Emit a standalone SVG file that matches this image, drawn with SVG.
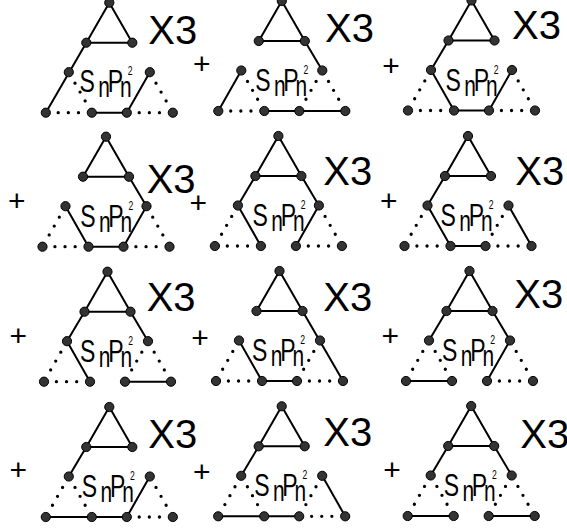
<svg xmlns="http://www.w3.org/2000/svg" width="567" height="529" viewBox="0 0 567 529">
<style>
.s{fill:none;stroke:#000;stroke-width:2;stroke-linejoin:round}
.d{fill:none;stroke:#000;stroke-width:3.3;stroke-linecap:round;stroke-dasharray:0 .22 0 .22 0 .56;stroke-dashoffset:-.27}
.v{fill:#333;stroke:#000;stroke-width:1}
.x{font-family:"Liberation Sans",Arial,sans-serif;font-size:40px;fill:#000}
.p{font-family:"Liberation Sans",Arial,sans-serif;font-size:30px;text-anchor:middle;fill:#000}
.t{font-family:"Liberation Sans",Arial,sans-serif;font-size:32px;fill:#000}
.sb{font-size:29px}
.sp{font-size:12px}
</style>
<rect width="567" height="529" fill="#fff"/>
<g id="connectors">
<g id="c1" transform="translate(109.3 2.7)">
<path class="s" d="M0 0L-23 40L23 40Z"/>
<path class="s" d="M-23 40L-63.5 110"/>
<path class="s" d="M-17.5 110H17.5L40.5 69.5"/>
<path class="d" pathLength="1" d="M-40.5 69.5L-17.5 110"/>
<path class="d" pathLength="1" d="M-63.5 110H-17.5"/>
<path class="d" pathLength="1" d="M40.5 69.5L63.5 110"/>
<path class="d" pathLength="1" d="M17.5 110H63.5"/>
</g>
<g id="c2" transform="translate(281.8 1)">
<path class="s" d="M0 0L-23 40L23 40Z"/>
<path class="s" d="M23 40L40.5 69.5"/>
<path class="s" d="M-40.5 69.5L-63.5 110"/>
<path class="s" d="M-17.5 110H63.5"/>
<path class="d" pathLength="1" d="M-40.5 69.5L-17.5 110"/>
<path class="d" pathLength="1" d="M-63.5 110H-17.5"/>
<path class="d" pathLength="1" d="M40.5 69.5L17.5 110"/>
<path class="d" pathLength="1" d="M40.5 69.5L63.5 110"/>
</g>
<g id="c3" transform="translate(471.5 0.5)">
<path class="s" d="M0 0L-23 40L23 40Z"/>
<path class="s" d="M-23 40L-40.5 69.5L-17.5 110H17.5L40.5 69.5"/>
<path class="d" pathLength="1" d="M-40.5 69.5L-63.5 110"/>
<path class="d" pathLength="1" d="M-63.5 110H-17.5"/>
<path class="d" pathLength="1" d="M40.5 69.5L63.5 110"/>
<path class="d" pathLength="1" d="M17.5 110H63.5"/>
</g>
<g id="c4" transform="translate(106 136.7)">
<path class="s" d="M0 0L-23 40L23 40Z"/>
<path class="s" d="M23 40L40.5 69.5L17.5 110H-17.5L-40.5 69.5"/>
<path class="d" pathLength="1" d="M-40.5 69.5L-63.5 110"/>
<path class="d" pathLength="1" d="M-63.5 110H-17.5"/>
<path class="d" pathLength="1" d="M40.5 69.5L63.5 110"/>
<path class="d" pathLength="1" d="M17.5 110H63.5"/>
</g>
<g id="c5" transform="translate(278.4 136)">
<path class="s" d="M0 0L-23 40L23 40Z"/>
<path class="s" d="M-23 40L-40.5 69.5L-17.5 110"/>
<path class="s" d="M23 40L40.5 69.5L17.5 110"/>
<path class="d" pathLength="1" d="M-40.5 69.5L-63.5 110"/>
<path class="d" pathLength="1" d="M-63.5 110H-17.5"/>
<path class="d" pathLength="1" d="M40.5 69.5L63.5 110"/>
<path class="d" pathLength="1" d="M17.5 110H63.5"/>
</g>
<g id="c6" transform="translate(468 136)">
<path class="s" d="M0 0L-23 40L23 40Z"/>
<path class="s" d="M-23 40L-40.5 69.5L-17.5 110H17.5"/>
<path class="s" d="M40.5 69.5L63.5 110"/>
<path class="d" pathLength="1" d="M40.5 69.5L17.5 110"/>
<path class="d" pathLength="1" d="M-40.5 69.5L-63.5 110"/>
<path class="d" pathLength="1" d="M-63.5 110H-17.5"/>
<path class="d" pathLength="1" d="M17.5 110H63.5"/>
</g>
<g id="c7" transform="translate(107.5 271.7)">
<path class="s" d="M0 0L-23 40L23 40Z"/>
<path class="s" d="M-23 40L-40.5 69.5L-17.5 110"/>
<path class="s" d="M23 40L40.5 69.5"/>
<path class="s" d="M17.5 110H63.5"/>
<path class="d" pathLength="1" d="M-40.5 69.5L-63.5 110"/>
<path class="d" pathLength="1" d="M-63.5 110H-17.5"/>
<path class="d" pathLength="1" d="M40.5 69.5L17.5 110"/>
<path class="d" pathLength="1" d="M40.5 69.5L63.5 110"/>
</g>
<g id="c8" transform="translate(279.5 271)">
<path class="s" d="M0 0L-23 40L23 40Z"/>
<path class="s" d="M23 40L63.5 110"/>
<path class="s" d="M-40.5 69.5L-17.5 110H17.5"/>
<path class="d" pathLength="1" d="M-40.5 69.5L-63.5 110"/>
<path class="d" pathLength="1" d="M-63.5 110H-17.5"/>
<path class="d" pathLength="1" d="M40.5 69.5L17.5 110"/>
<path class="d" pathLength="1" d="M17.5 110H63.5"/>
</g>
<g id="c9" transform="translate(469.5 271)">
<path class="s" d="M0 0L-23 40L23 40Z"/>
<path class="s" d="M-23 40L-40.5 69.5"/>
<path class="s" d="M23 40L40.5 69.5L17.5 110"/>
<path class="s" d="M-63.5 110H-17.5"/>
<path class="d" pathLength="1" d="M-40.5 69.5L-63.5 110"/>
<path class="d" pathLength="1" d="M-40.5 69.5L-17.5 110"/>
<path class="d" pathLength="1" d="M40.5 69.5L63.5 110"/>
<path class="d" pathLength="1" d="M17.5 110H63.5"/>
</g>
<g id="c10" transform="translate(109.3 407)">
<path class="s" d="M0 0L-23 40L23 40Z"/>
<path class="s" d="M-23 40L-40.5 69.5"/>
<path class="s" d="M-63.5 110H17.5L40.5 69.5"/>
<path class="d" pathLength="1" d="M-40.5 69.5L-63.5 110"/>
<path class="d" pathLength="1" d="M-40.5 69.5L-17.5 110"/>
<path class="d" pathLength="1" d="M40.5 69.5L63.5 110"/>
<path class="d" pathLength="1" d="M17.5 110H63.5"/>
</g>
<g id="c11" transform="translate(281.7 406.3)">
<path class="s" d="M0 0L-23 40L23 40Z"/>
<path class="s" d="M-23 40L-40.5 69.5"/>
<path class="s" d="M-63.5 110H17.5"/>
<path class="s" d="M40.5 69.5L63.5 110"/>
<path class="d" pathLength="1" d="M-40.5 69.5L-63.5 110"/>
<path class="d" pathLength="1" d="M-40.5 69.5L-17.5 110"/>
<path class="d" pathLength="1" d="M40.5 69.5L17.5 110"/>
<path class="d" pathLength="1" d="M17.5 110H63.5"/>
</g>
<g id="c12" transform="translate(471.2 406)">
<path class="s" d="M0 0L-23 40L23 40Z"/>
<path class="s" d="M-23 40L-40.5 69.5"/>
<path class="s" d="M23 40L40.5 69.5"/>
<path class="s" d="M-63.5 110H-17.5"/>
<path class="s" d="M17.5 110H63.5"/>
<path class="d" pathLength="1" d="M-40.5 69.5L-63.5 110"/>
<path class="d" pathLength="1" d="M-40.5 69.5L-17.5 110"/>
<path class="d" pathLength="1" d="M40.5 69.5L17.5 110"/>
<path class="d" pathLength="1" d="M40.5 69.5L63.5 110"/>
</g>
</g>
<defs>
<g id="verts">
<circle class="v" cx="0" cy="0" r="4.6"/>
<circle class="v" cx="-23" cy="40" r="4.6"/>
<circle class="v" cx="23" cy="40" r="4.6"/>
<circle class="v" cx="-40.5" cy="69.5" r="4.6"/>
<circle class="v" cx="40.5" cy="69.5" r="4.6"/>
<circle class="v" cx="-63.5" cy="110" r="4.6"/>
<circle class="v" cx="-17.5" cy="110" r="4.6"/>
<circle class="v" cx="17.5" cy="110" r="4.6"/>
<circle class="v" cx="63.5" cy="110" r="4.6"/>
</g>
</defs>
<g id="node1"><use href="#verts" transform="translate(109.3 2.7)"/></g>
<g id="node2"><use href="#verts" transform="translate(281.8 1)"/></g>
<g id="node3"><use href="#verts" transform="translate(471.5 0.5)"/></g>
<g id="node4"><use href="#verts" transform="translate(106 136.7)"/></g>
<g id="node5"><use href="#verts" transform="translate(278.4 136)"/></g>
<g id="node6"><use href="#verts" transform="translate(468 136)"/></g>
<g id="node7"><use href="#verts" transform="translate(107.5 271.7)"/></g>
<g id="node8"><use href="#verts" transform="translate(279.5 271)"/></g>
<g id="node9"><use href="#verts" transform="translate(469.5 271)"/></g>
<g id="node10"><use href="#verts" transform="translate(109.3 407)"/></g>
<g id="node11"><use href="#verts" transform="translate(281.7 406.3)"/></g>
<g id="node12"><use href="#verts" transform="translate(471.2 406)"/></g>
<g id="labels">
<text class="x" x="148.3" y="44">X3</text>
<text class="x" x="325" y="41.7">X3</text>
<text class="x" x="512" y="39">X3</text>
<text class="x" x="146.7" y="193">X3</text>
<text class="x" x="323.3" y="185">X3</text>
<text class="x" x="515.3" y="185">X3</text>
<text class="x" x="146.7" y="311">X3</text>
<text class="x" x="323.3" y="311">X3</text>
<text class="x" x="514.3" y="308">X3</text>
<text class="x" x="148.3" y="448">X3</text>
<text class="x" x="323.3" y="446">X3</text>
<text class="x" x="520.3" y="448">X3</text>
<text class="p" x="201.7" y="73.8">+</text>
<text class="p" x="391" y="75.8">+</text>
<text class="p" x="16.7" y="210.8">+</text>
<text class="p" x="198.3" y="212.5">+</text>
<text class="p" x="388.7" y="210.8">+</text>
<text class="p" x="18.3" y="345.8">+</text>
<text class="p" x="200" y="347.5">+</text>
<text class="p" x="390.3" y="345.8">+</text>
<text class="p" x="18.3" y="479.8">+</text>
<text class="p" x="201.7" y="481.5">+</text>
<text class="p" x="392" y="479.8">+</text>
<text class="t" transform="translate(81 91.5) scale(.72 1)"><tspan x="-2" y="0">S</tspan><tspan class="sb" x="24" y="5">n</tspan><tspan x="37" y="0">P</tspan><tspan class="sb" x="54" y="5">n</tspan><tspan class="sp" x="65" y="-17">2</tspan></text>
<text class="t" transform="translate(256.7 91) scale(.72 1)"><tspan x="-2" y="0">S</tspan><tspan class="sb" x="24" y="5">n</tspan><tspan x="37" y="0">P</tspan><tspan class="sb" x="54" y="5">n</tspan><tspan class="sp" x="65" y="-17">2</tspan></text>
<text class="t" transform="translate(447 90.5) scale(.72 1)"><tspan x="-2" y="0">S</tspan><tspan class="sb" x="24" y="5">n</tspan><tspan x="37" y="0">P</tspan><tspan class="sb" x="54" y="5">n</tspan><tspan class="sp" x="65" y="-17">2</tspan></text>
<text class="t" transform="translate(81.7 226.7) scale(.72 1)"><tspan x="-2" y="0">S</tspan><tspan class="sb" x="24" y="5">n</tspan><tspan x="37" y="0">P</tspan><tspan class="sb" x="54" y="5">n</tspan><tspan class="sp" x="65" y="-17">2</tspan></text>
<text class="t" transform="translate(254 226) scale(.72 1)"><tspan x="-2" y="0">S</tspan><tspan class="sb" x="24" y="5">n</tspan><tspan x="37" y="0">P</tspan><tspan class="sb" x="54" y="5">n</tspan><tspan class="sp" x="65" y="-17">2</tspan></text>
<text class="t" transform="translate(442 226) scale(.72 1)"><tspan x="-2" y="0">S</tspan><tspan class="sb" x="24" y="5">n</tspan><tspan x="37" y="0">P</tspan><tspan class="sb" x="54" y="5">n</tspan><tspan class="sp" x="65" y="-17">2</tspan></text>
<text class="t" transform="translate(81.5 361.7) scale(.72 1)"><tspan x="-2" y="0">S</tspan><tspan class="sb" x="24" y="5">n</tspan><tspan x="37" y="0">P</tspan><tspan class="sb" x="54" y="5">n</tspan><tspan class="sp" x="65" y="-17">2</tspan></text>
<text class="t" transform="translate(253.5 361) scale(.72 1)"><tspan x="-2" y="0">S</tspan><tspan class="sb" x="24" y="5">n</tspan><tspan x="37" y="0">P</tspan><tspan class="sb" x="54" y="5">n</tspan><tspan class="sp" x="65" y="-17">2</tspan></text>
<text class="t" transform="translate(443.5 361) scale(.72 1)"><tspan x="-2" y="0">S</tspan><tspan class="sb" x="24" y="5">n</tspan><tspan x="37" y="0">P</tspan><tspan class="sb" x="54" y="5">n</tspan><tspan class="sp" x="65" y="-17">2</tspan></text>
<text class="t" transform="translate(83.3 497) scale(.72 1)"><tspan x="-2" y="0">S</tspan><tspan class="sb" x="24" y="5">n</tspan><tspan x="37" y="0">P</tspan><tspan class="sb" x="54" y="5">n</tspan><tspan class="sp" x="65" y="-17">2</tspan></text>
<text class="t" transform="translate(255.7 496.3) scale(.72 1)"><tspan x="-2" y="0">S</tspan><tspan class="sb" x="24" y="5">n</tspan><tspan x="37" y="0">P</tspan><tspan class="sb" x="54" y="5">n</tspan><tspan class="sp" x="65" y="-17">2</tspan></text>
<text class="t" transform="translate(445.2 496) scale(.72 1)"><tspan x="-2" y="0">S</tspan><tspan class="sb" x="24" y="5">n</tspan><tspan x="37" y="0">P</tspan><tspan class="sb" x="54" y="5">n</tspan><tspan class="sp" x="65" y="-17">2</tspan></text>
</g>
</svg>
